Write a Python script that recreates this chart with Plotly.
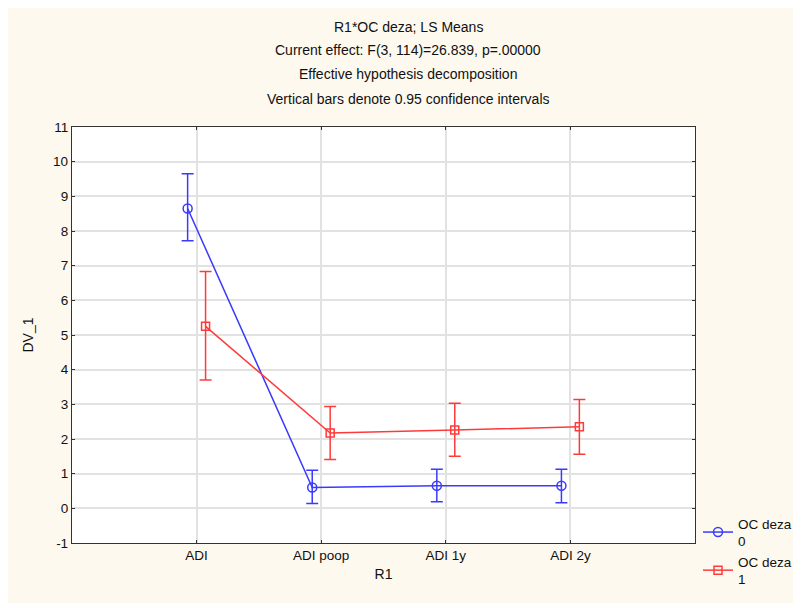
import plotly.graph_objects as go

categories = ["ADI", "ADI poop", "ADI 1y", "ADI 2y"]
mean_0 = [8.65, 0.60, 0.65, 0.65]
upper_0 = [9.65, 1.10, 1.13, 1.13]
lower_0 = [7.72, 0.14, 0.19, 0.16]
mean_1 = [5.25, 2.17, 2.26, 2.35]
upper_1 = [6.83, 2.94, 3.03, 3.14]
lower_1 = [3.70, 1.41, 1.50, 1.56]
y_ticks = list(range(-1, 12))
y_ticklabels = [str(v) for v in y_ticks]
titles = ["R1*OC deza; LS Means",
          "Current effect: F(3, 114)=26.839, p=.00000",
          "Effective hypothesis decomposition",
          "Vertical bars denote 0.95 confidence intervals"]

FONT = "Liberation Sans, Arial, sans-serif"
BLUE = "#3a3aff"
RED = "#ff3a3a"
off = 0.072
idx = list(range(len(categories)))

fig = go.Figure()
fig.add_trace(go.Scatter(
    x=[i - off for i in idx], y=mean_0, mode="lines+markers",
    name="OC deza<br>0",
    line=dict(color=BLUE, width=1.5),
    marker=dict(symbol="circle-open", size=9, color=BLUE, line=dict(width=1.5)),
    error_y=dict(type="data", symmetric=False,
                 array=[u - m for u, m in zip(upper_0, mean_0)],
                 arrayminus=[m - l for m, l in zip(mean_0, lower_0)],
                 color=BLUE, thickness=1.5, width=6),
))
fig.add_trace(go.Scatter(
    x=[i + off for i in idx], y=mean_1, mode="lines+markers",
    name="OC deza<br>1",
    line=dict(color=RED, width=1.5),
    marker=dict(symbol="square-open", size=8, color=RED, line=dict(width=1.5)),
    error_y=dict(type="data", symmetric=False,
                 array=[u - m for u, m in zip(upper_1, mean_1)],
                 arrayminus=[m - l for m, l in zip(mean_1, lower_1)],
                 color=RED, thickness=1.5, width=6),
))

# page renders with an 8px body offset; positions below are screen pixels
OFF = 8
W, H = 801 - OFF, 603 - OFF
L, T = 72 - OFF, 127 - OFF
R = W - (695 - OFF)
B = H - (543 - OFF)
pw, ph = W - L - R, H - T - B

def px_x(p):
    return (p - OFF - L) / pw

def px_y(p):
    return (H - B - (p - OFF)) / ph

ann = []
for t, yy in zip(titles, [27, 50, 74, 99]):
    ann.append(dict(text=t, xref="paper", yref="paper", x=px_x(408), y=px_y(yy),
                    xanchor="center", yanchor="middle", showarrow=False,
                    font=dict(family=FONT, size=14, color="#111")))

fig.update_layout(
    width=W, height=H,
    margin=dict(l=L, r=R, t=T, b=B, autoexpand=False),
    paper_bgcolor="#fef9ee",
    plot_bgcolor="white",
    font=dict(family=FONT, size=13.5, color="#111"),
    showlegend=True,
    legend=dict(x=px_x(698), y=px_y(508), xanchor="left", yanchor="top",
                bgcolor="rgba(0,0,0,0)", font=dict(family=FONT, size=13.5, color="#111"),
                tracegroupgap=10, itemwidth=30),
    annotations=ann,
)
fig.update_xaxes(
    range=[-1, 4], tickvals=idx, ticktext=categories,
    showgrid=True, gridcolor="#e2e2e2", gridwidth=1.5, zeroline=False,
    showline=True, linecolor="#333", linewidth=1.3, mirror="ticks",
    ticks="inside", ticklen=3, tickcolor="#333",
    title=dict(text="R1", standoff=6, font=dict(size=14)),
)
fig.update_yaxes(
    range=[-1, 11], tickvals=y_ticks, ticktext=y_ticklabels,
    showgrid=True, gridcolor="#e2e2e2", gridwidth=1.5, zeroline=False,
    showline=True, linecolor="#333", linewidth=1.3, mirror="ticks",
    ticks="inside", ticklen=3, tickcolor="#333",
    title=dict(text="DV_1", standoff=16, font=dict(size=14)),
)
fig.write_html("out.html")
